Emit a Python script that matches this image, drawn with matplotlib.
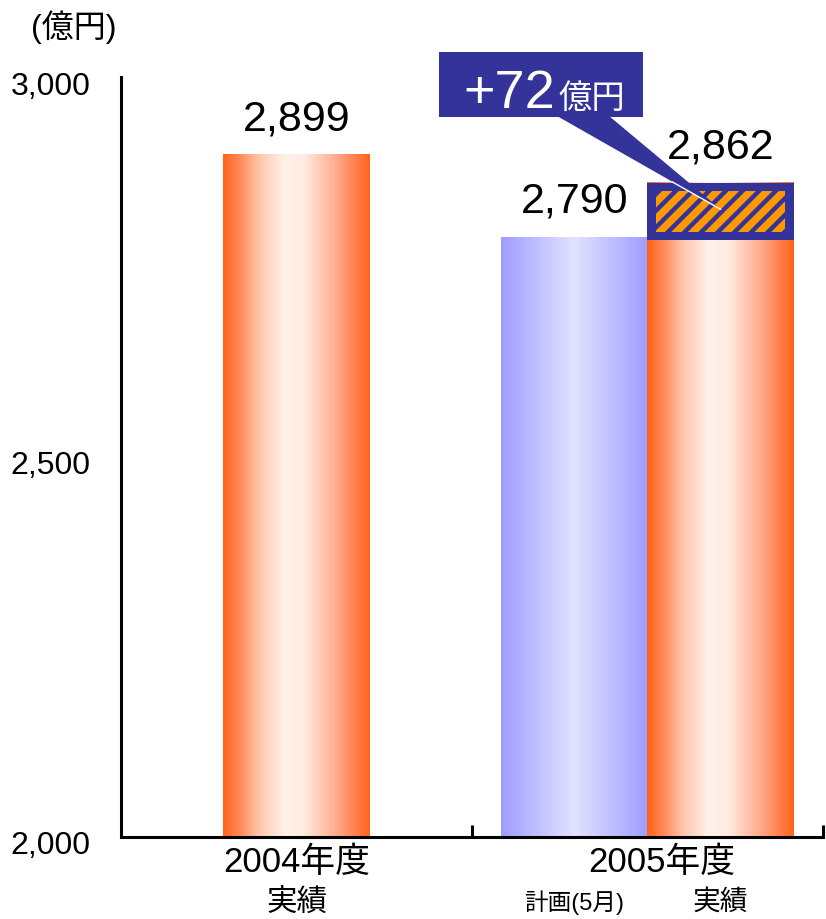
import matplotlib
matplotlib.use('Agg')
import matplotlib.pyplot as plt
import numpy as np
from matplotlib import font_manager
from matplotlib.colors import LinearSegmentedColormap
from matplotlib.patches import Rectangle, Polygon
import matplotlib.transforms as mtransforms

# ---- data ----
categories = ['2004年度', '2005年度']
sub_labels = ['実績', '計画(5月)', '実績']
bar_values = [2899, 2790, 2862]
value_labels = ['2,899', '2,790', '2,862']
ytick_values = [2000, 2500, 3000]
ytick_labels = ['2,000', '2,500', '3,000']
unit_label = '(億円)'
callout_unit = '億円'

plan_2005 = bar_values[1]
actual_2005 = bar_values[2]
diff = actual_2005 - plan_2005
y_min, y_max = ytick_values[0], ytick_values[-1]

names = {f.name for f in font_manager.fontManager.ttflist}
NARROW = 'Liberation Sans Narrow' if 'Liberation Sans Narrow' in names else 'Liberation Sans'
JP = ['Noto Sans CJK JP', 'DejaVu Sans']
NARROW_JP = [NARROW, 'Noto Sans CJK JP', 'DejaVu Sans']
plt.rcParams['hatch.linewidth'] = 3.2

fig = plt.figure(figsize=(8.26, 9.19), dpi=100)
ax = fig.add_axes([121/826, 82/919, 702/826, 760/919])

orange = LinearSegmentedColormap.from_list('org', [
    (0.0, '#FF6418'), (0.10, '#FF8450'), (0.25, '#FFC7AE'), (0.42, '#FFF2EA'),
    (0.55, '#FFECE2'), (0.78, '#FFA888'), (0.92, '#FF7A44'), (1.0, '#FF6418')])
blue = LinearSegmentedColormap.from_list('blu', [
    (0.0, '#9E9EFF'), (0.5, '#E2E2FF'), (1.0, '#9E9EFF')])

xs = [0.5, 1.2915, 1.7085]
width = 0.418
cmaps = [orange, blue, orange]

heights = [v - y_min for v in bar_values]
bars = ax.bar(xs, heights, bottom=y_min, width=width, color='none',
              edgecolor='none', zorder=2)
grad = np.linspace(0, 1, 256).reshape(1, -1)
for rect, cm in zip(bars, cmaps):
    x0, y0, w, h = rect.get_x(), rect.get_y(), rect.get_width(), rect.get_height()
    im = ax.imshow(grad, cmap=cm, aspect='auto', interpolation='bicubic',
                   extent=(x0, x0 + w, y0, y0 + h), zorder=2)
    im.set_clip_path(rect)

# hatched increment box on the 2005 actual bar
ab = bars[2]
bx0, bw = ab.get_x(), ab.get_width()
ax.add_patch(Rectangle((bx0, plan_2005 - 5), bw, diff + 4, facecolor='#333399',
                       edgecolor='none', zorder=3))
ix, iy = 9 / 351.0, 11.5
ax.add_patch(Rectangle((bx0 + ix, plan_2005 - 5 + iy), bw - 2 * ix, diff + 4 - 2 * iy,
                       facecolor='#FF9900', edgecolor='#333399', linewidth=0,
                       hatch='//', zorder=4))

# value labels
for x, v, lab in zip(xs, bar_values, value_labels):
    ax.annotate(lab, (x, v), xytext=(0, 25), textcoords='offset points',
                ha='center', va='center', fontsize=31, family='Liberation Sans',
                color='black', zorder=6)

# callout
tip = (xs[2], (plan_2005 + actual_2005) / 2)
cx0, cx1 = 0.9047, 1.4879
cy0, cy1 = 2947.4, 3032.9
base_l, base_r = 1.2432, 1.3912
ax.add_patch(Polygon([(base_l, cy0 + 1), tip, (base_r, cy0 + 1)], closed=True,
                     facecolor='#333399', edgecolor='none', zorder=7, clip_on=False))
ax.add_patch(Rectangle((cx0, cy0), cx1 - cx0, cy1 - cy0, facecolor='#333399',
                       edgecolor='none', zorder=7, clip_on=False))
t = (cy0 - actual_2005) / (cy0 - tip[1])
wx = base_l + t * (tip[0] - base_l)
ax.plot([wx, tip[0]], [actual_2005, tip[1]], color='white', lw=1.0, zorder=8)
ax.text(1.2376, 2959, f'+{diff}', color='white', fontsize=39, family='Liberation Sans',
        ha='right', va='baseline', zorder=9, clip_on=False)
ax.text(1.2462, 2959, callout_unit, color='white', fontsize=24, family=JP,
        ha='left', va='baseline', zorder=9, clip_on=False)

# axes styling
ax.set_xlim(0, 2)
ax.set_ylim(y_min, y_max)
for s in ['top', 'right']:
    ax.spines[s].set_visible(False)
for s in ['left', 'bottom']:
    ax.spines[s].set_linewidth(2.2)
    ax.spines[s].set_color('black')
ax.set_xticks([1, 2])
ax.set_xticklabels([])
ax.tick_params(axis='x', direction='in', length=8.6, width=2.2, color='black')
ax.set_yticks(ytick_values, ytick_labels)
ax.tick_params(axis='y', length=0, pad=22)
for lab in ax.get_yticklabels():
    lab.set_fontsize(23)
    lab.set_family(NARROW)
    lab.set_transform(lab.get_transform() +
                      mtransforms.ScaledTranslation(0, -6 / 100, fig.dpi_scale_trans))

# category labels
tr = ax.get_xaxis_transform()
cat_x = [xs[0], 1.54]
for x, c in zip(cat_x, categories):
    ax.text(x, -0.034, c, transform=tr, ha='center', va='center', fontsize=25,
            family=NARROW_JP, clip_on=False)
sub_sizes = [22, 17, 20]
for x, s, fs in zip(xs, sub_labels, sub_sizes):
    ax.text(x, -0.087, s, transform=tr, ha='center', va='center', fontsize=fs,
            family=NARROW_JP, clip_on=False)

fig.text(74 / 826, 1 - 27 / 919, unit_label, ha='center', va='center', fontsize=23,
         family=NARROW_JP)

fig.savefig('out.png', dpi=100)
